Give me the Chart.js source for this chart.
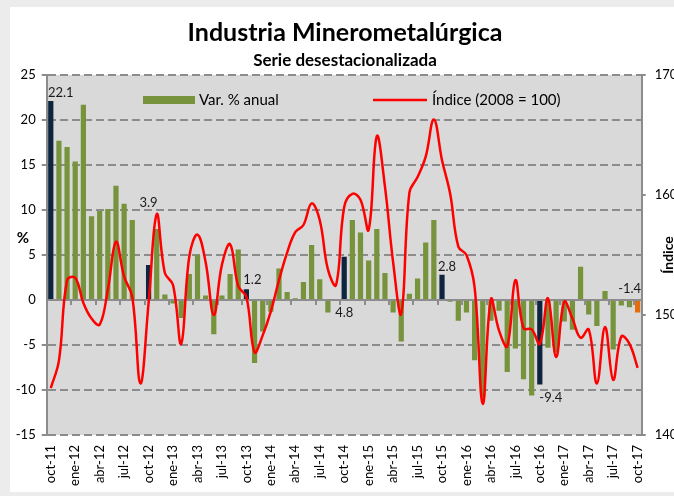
<!DOCTYPE html>
<html lang="es">
<head>
    <meta charset="UTF-8">
    <title>Industria Minerometalúrgica</title>
    <script src="https://cdn.jsdelivr.net/npm/chart.js"></script>
    <style>
        body { margin: 0; background: #fff; }
        canvas { display: block; }
    </style>
</head>
<body>
    <canvas id="mineroChart" width="674" height="496"></canvas>

    <script>
        const meses = [
            'oct-11', 'nov-11', 'dic-11',
            'ene-12', 'feb-12', 'mar-12', 'abr-12', 'may-12', 'jun-12', 'jul-12', 'ago-12', 'set-12', 'oct-12', 'nov-12', 'dic-12',
            'ene-13', 'feb-13', 'mar-13', 'abr-13', 'may-13', 'jun-13', 'jul-13', 'ago-13', 'set-13', 'oct-13', 'nov-13', 'dic-13',
            'ene-14', 'feb-14', 'mar-14', 'abr-14', 'may-14', 'jun-14', 'jul-14', 'ago-14', 'set-14', 'oct-14', 'nov-14', 'dic-14',
            'ene-15', 'feb-15', 'mar-15', 'abr-15', 'may-15', 'jun-15', 'jul-15', 'ago-15', 'set-15', 'oct-15', 'nov-15', 'dic-15',
            'ene-16', 'feb-16', 'mar-16', 'abr-16', 'may-16', 'jun-16', 'jul-16', 'ago-16', 'set-16', 'oct-16', 'nov-16', 'dic-16',
            'ene-17', 'feb-17', 'mar-17', 'abr-17', 'may-17', 'jun-17', 'jul-17', 'ago-17', 'set-17', 'oct-17'
        ];

        // Var. % anual (eje izquierdo)
        const varAnual = [
            22.1, 17.7, 17.0,
            15.4, 21.7, 9.3, 9.9, 10.1, 12.7, 10.7, 8.9, -0.1, 3.9, 7.9, 0.6,
            -0.4, -2.0, 2.9, 5.0, 0.5, -3.8, 0.5, 2.9, 5.6, 1.2, -7.0, -3.5,
            -1.3, 3.5, 0.9, 0.2, 2.0, 6.1, 2.3, -1.4, 0.1, 4.8, 8.9, 7.5,
            4.4, 7.9, 3.0, -1.4, -4.6, 0.7, 2.4, 6.4, 8.9, 2.8, -0.2, -2.3,
            -1.4, -6.7, -10.8, -2.3, -1.2, -8.0, -5.4, -8.8, -10.6, -9.4, -5.3, -5.8,
            -2.4, -3.3, 3.7, -1.6, -2.9, 1.0, -5.5, -0.6, -0.8, -1.4
        ];

        // Índice (2008 = 100), eje derecho
        const indice = [
            143.9, 146.2, 152.9,
            153.1, 151.0, 149.7, 149.2, 152.1, 156.1, 153.2, 151.5, 144.3, 151.0, 158.4, 153.5,
            152.5, 147.6, 154.9, 156.7, 154.4, 150.0, 154.2, 155.9, 152.4, 151.5, 146.9, 148.3,
            150.3, 152.9, 155.2, 156.9, 157.5, 159.3, 157.9, 153.8, 152.5, 159.0, 160.1, 159.6,
            157.1, 164.9, 160.7, 154.4, 150.1, 160.2, 161.5, 163.2, 166.3, 162.9, 160.1, 155.7,
            155.0, 152.3, 142.6, 151.3, 148.7, 147.4, 152.9, 148.9, 148.8, 147.6, 151.4, 146.5,
            151.1, 149.7, 148.1, 148.8, 144.3, 149.0, 144.6, 148.2, 147.6, 145.6
        ];

        const FUENTE = 'Lato, "Open Sans", sans-serif';
        Chart.defaults.font.family = FUENTE;
        Chart.defaults.color = '#000';

        const GRIS = '#8c8c8c';
        const VERDE = '#77933c';

        const fondo = {
            id: 'fondo',
            beforeDraw(chart) {
                const { ctx, chartArea: a } = chart;
                ctx.save();
                ctx.fillStyle = '#ececec';
                ctx.fillRect(0, 0, chart.width, chart.height);
                ctx.fillStyle = '#fff';
                ctx.fillRect(10, 7, chart.width - 10, 485);
                ctx.fillStyle = '#d9d9d9';
                ctx.fillRect(a.left, a.top, a.right - a.left, a.bottom - a.top);
                ctx.restore();
            }
        };

        // linea del cero con sus marcas cada 3 meses
        const ejeCero = {
            id: 'ejeCero',
            beforeDatasetsDraw(chart) {
                const { ctx, chartArea: a, scales: { y } } = chart;
                const y0 = y.getPixelForValue(0);
                const paso = (a.right - a.left) / meses.length;
                ctx.save();
                ctx.strokeStyle = GRIS;
                ctx.lineWidth = 2;
                ctx.beginPath();
                ctx.moveTo(a.left, y0);
                ctx.lineTo(a.right, y0);
                for (let k = 3; k < meses.length; k += 3) {
                    const px = Math.round(a.left + k * paso);
                    ctx.moveTo(px, y0);
                    ctx.lineTo(px, y0 + 5);
                }
                ctx.stroke();
                ctx.restore();
            }
        };

        const etiquetas = {
            id: 'etiquetas',
            afterDatasetsDraw(chart) {
                const { ctx } = chart;
                const meta = chart.getDatasetMeta(1);
                const desplaz = { 0: [10, -8], 12: [0, -62], 24: [6, -9], 36: [0, 56], 48: [5, -8], 60: [11, 13], 72: [-8, -24] };
                ctx.save();
                ctx.font = '13px ' + FUENTE;
                ctx.fillStyle = '#1a1a1a';
                ctx.textAlign = 'center';
                ctx.textBaseline = 'middle';
                Object.entries(desplaz).forEach(([i, d]) => {
                    const bar = meta.data[i];
                    ctx.fillText(varAnual[i].toFixed(1), bar.x + d[0], bar.y + d[1]);
                });
                ctx.restore();
            }
        };

        const textos = {
            id: 'textos',
            afterDraw(chart) {
                const { ctx } = chart;
                const ds = chart.data.datasets;
                ctx.save();
                ctx.fillStyle = '#000';
                ctx.textAlign = 'center';
                ctx.textBaseline = 'middle';
                ctx.font = 'bold 25px ' + FUENTE;
                ctx.fillText('Industria Minerometalúrgica', 345, 33);
                ctx.font = 'bold 17px ' + FUENTE;
                ctx.fillText('Serie desestacionalizada', 345, 61);

                // leyenda
                ctx.textAlign = 'left';
                ctx.font = '15px ' + FUENTE;
                ctx.fillStyle = VERDE;
                ctx.fillRect(143, 96, 52, 8);
                ctx.fillStyle = '#000';
                ctx.fillText(ds[1].label, 199, 100);
                ctx.strokeStyle = '#ff0000';
                ctx.lineWidth = 2.5;
                ctx.beginPath();
                ctx.moveTo(373, 100);
                ctx.lineTo(427, 100);
                ctx.stroke();
                ctx.fillText(ds[0].label, 432, 100);

                // titulos de ejes
                ctx.font = 'bold 15px ' + FUENTE;
                ctx.textAlign = 'center';
                ctx.fillText('%', 23, 238);
                ctx.translate(668, 255);
                ctx.rotate(-Math.PI / 2);
                ctx.font = 'bold 14px ' + FUENTE;
                ctx.fillText('Índice', 0, 0);
                ctx.restore();
            }
        };

        new Chart(document.getElementById('mineroChart'), {
            data: {
                labels: meses,
                datasets: [{
                    type: 'line',
                    label: 'Índice (2008 = 100)',
                    data: indice,
                    yAxisID: 'y2',
                    borderColor: '#ff0000',
                    borderWidth: 2.5,
                    pointRadius: 0,
                    tension: 0.4,
                    order: 0
                }, {
                    type: 'bar',
                    label: 'Var. % anual',
                    data: varAnual,
                    yAxisID: 'y',
                    backgroundColor: ctx => {
                        const i = ctx.dataIndex;
                        if (i === meses.length - 1) return '#e46c0a';
                        return meses[i].startsWith('oct') ? '#0f243e' : VERDE;
                    },
                    categoryPercentage: 1,
                    barPercentage: 0.64,
                    order: 1
                }]
            },
            options: {
                responsive: false,
                animation: false,
                layout: { padding: { top: 75, left: 0, right: 0, bottom: 0 } },
                plugins: {
                    legend: { display: false },
                    tooltip: { enabled: false }
                },
                scales: {
                    x: {
                        grid: { display: false, drawTicks: false },
                        border: { display: false },
                        ticks: {
                            autoSkip: false,
                            minRotation: 90,
                            maxRotation: 90,
                            padding: 10,
                            font: { size: 13 },
                            callback: (v, i) => (i % 3 === 0 ? meses[i] : '')
                        },
                        afterFit: s => { s.height = 61; }
                    },
                    y: {
                        position: 'left',
                        min: -15,
                        max: 25,
                        ticks: { stepSize: 5, padding: 6, font: { size: 13 } },
                        grid: {
                            color: c => (c.tick && c.tick.value === 0 ? 'rgba(0,0,0,0)' : GRIS),
                            lineWidth: 2,
                            tickLength: 5
                        },
                        border: { display: true, color: GRIS, width: 2, dash: [8, 4] },
                        afterFit: s => { s.width = 46.7; }
                    },
                    y2: {
                        position: 'right',
                        min: 140,
                        max: 170,
                        ticks: { stepSize: 10, padding: 9, font: { size: 13 } },
                        grid: { drawOnChartArea: false, tickLength: 4, color: GRIS, lineWidth: 2 },
                        border: { display: true, color: GRIS, width: 2 },
                        afterFit: s => { s.width = 32.3; }
                    }
                }
            },
            plugins: [fondo, ejeCero, etiquetas, textos]
        });
    </script>
</body>
</html>
